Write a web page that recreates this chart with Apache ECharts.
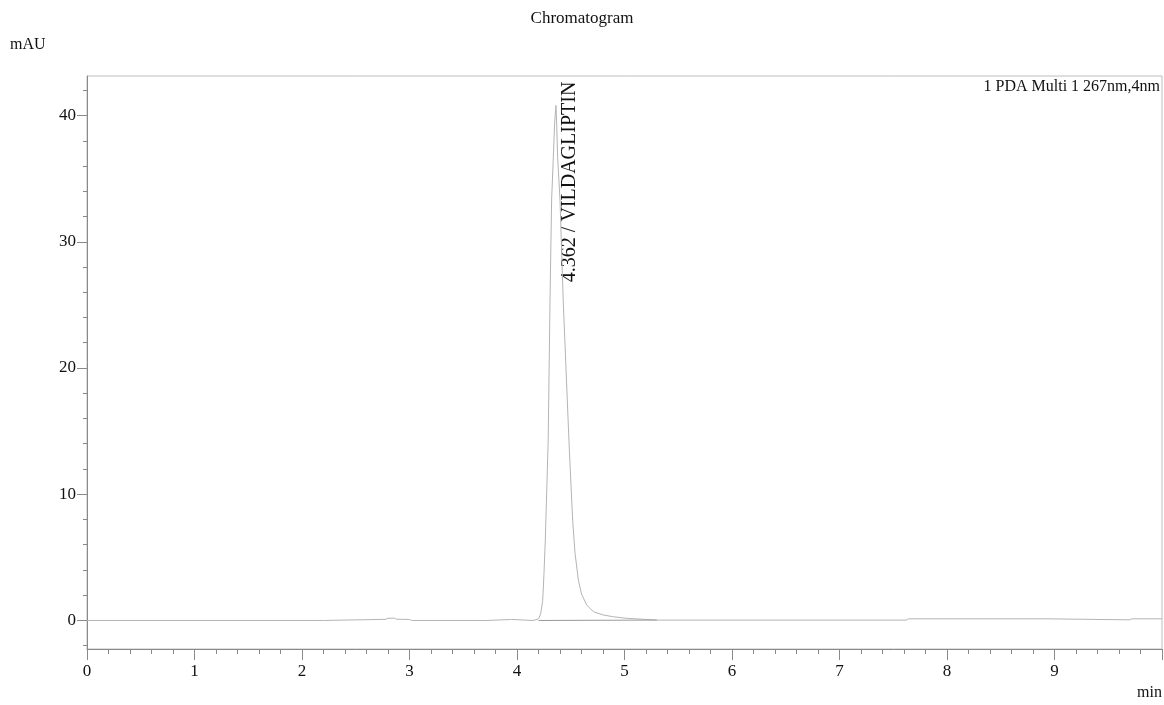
<!DOCTYPE html>
<html>
<head>
<meta charset="utf-8">
<script src="https://cdn.jsdelivr.net/npm/echarts@6/dist/echarts.min.js"></script>
<style>
  html, body { margin: 0; padding: 0; background: #fff; }
  #main { width: 1164px; height: 705px; }
</style>
</head>
<body>
<div id="main"></div>
<script>
// retention time (min) and detector signal (mAU)
const times = [0, 2.2, 2.21, 2.78, 2.8, 2.86, 2.88, 3.0, 3.02, 3.72, 3.73, 3.95, 3.96, 4.15,
  4.2, 4.22, 4.239, 4.251, 4.263, 4.29, 4.307, 4.322, 4.338, 4.35, 4.362, 4.369, 4.378, 4.40,
  4.43, 4.487, 4.518, 4.54, 4.571, 4.60, 4.648, 4.71, 4.80, 4.89, 5.02, 5.27, 5.3,
  7.62, 7.64, 8.94, 8.95, 9.7, 9.72, 10];
const mAU = [0, 0, 0.08, 0.09, 0.18, 0.18, 0.1, 0.08, 0, 0, 0.08, 0.08, 0, 0,
  0.13, 0.53, 1.58, 3.7, 6.3, 14.25, 25.3, 33.3, 36.7, 39.4, 40.8, 39.4, 36.7, 33.3,
  25.3, 13.5, 7.9, 5.3, 3.2, 2.1, 1.23, 0.7, 0.44, 0.3, 0.17, 0.05, 0.03,
  0.03, 0.13, 0.13, 0.05, 0.05, 0.13, 0.13];

// integration baseline under the peak
const baseTimes = [4.2, 5.3];
const baseValues = [0, 0.03];

const peakTime = 4.362;
const peakName = 'VILDAGLIPTIN';
const yLabels = [0, 10, 20, 30, 40];
const yMinor = [-2, 2, 4, 6, 8, 12, 14, 16, 18, 22, 24, 26, 28, 32, 34, 36, 38, 42];

const font = '"Liberation Serif", "DejaVu Serif", serif';
const axisGray = '#8a8a8a';
const traceGray = '#b4b4b4';

const chart = echarts.init(document.getElementById('main'));

function texts(extra) {
  return [
    { type: 'text', left: 'center', top: 10,
      style: { text: 'Chromatogram', font: '17px ' + font, fill: '#111' } },
    { type: 'text', left: 10, top: 37,
      style: { text: 'mAU', font: '16px ' + font, fill: '#111' } },
    { type: 'text', right: 4, top: 79,
      style: { text: '1 PDA Multi 1 267nm,4nm', font: '16px ' + font, fill: '#111' } },
    { type: 'text', right: 2, top: 685,
      style: { text: 'min', font: '16px ' + font, fill: '#111' } }
  ].concat(extra || []);
}

const option = {
  animation: false,
  backgroundColor: '#fff',
  textStyle: { fontFamily: font },
  grid: {
    left: 87, right: 2, top: 76, bottom: 56,
    show: true, borderColor: '#bdbdbd', borderWidth: 1
  },
  xAxis: {
    type: 'value',
    min: 0, max: 10, interval: 1,
    axisLine: { onZero: false, lineStyle: { color: axisGray } },
    axisTick: { length: 11, lineStyle: { color: axisGray } },
    minorTick: { show: true, splitNumber: 5, length: 5, lineStyle: { color: axisGray } },
    splitLine: { show: false },
    axisLabel: { color: '#111', fontSize: 17, margin: 14, showMaxLabel: false, fontFamily: font }
  },
  yAxis: [
    {
      type: 'value',
      min: -2.26, max: 43.13,
      axisLine: { show: true, onZero: false, lineStyle: { color: axisGray } },
      axisTick: { show: true, length: 10, customValues: yLabels, lineStyle: { color: axisGray } },
      axisLabel: { color: '#111', fontSize: 17, margin: 11, customValues: yLabels, fontFamily: font },
      splitLine: { show: false }
    },
    {
      type: 'value',
      position: 'left',
      min: -2.26, max: 43.13,
      axisLine: { show: false, onZero: false },
      axisTick: { show: true, length: 4, customValues: yMinor, lineStyle: { color: axisGray } },
      axisLabel: { show: false },
      splitLine: { show: false }
    }
  ],
  series: [
    {
      name: 'PDA',
      type: 'line',
      yAxisIndex: 0,
      data: times.map((t, i) => [t, mAU[i]]),
      showSymbol: false,
      lineStyle: { color: traceGray, width: 1 },
      silent: true
    },
    {
      name: 'baseline',
      type: 'line',
      yAxisIndex: 0,
      data: baseTimes.map((t, i) => [t, baseValues[i]]),
      showSymbol: false,
      lineStyle: { color: '#9a9a9a', width: 1 },
      silent: true
    }
  ],
  graphic: texts()
};

chart.setOption(option);

// peak label, placed from the data via the axis scales
const anchor = chart.convertToPixel({ xAxisIndex: 0, yAxisIndex: 0 }, [peakTime, 26.8]);
chart.setOption({
  graphic: texts([
    { type: 'text', x: anchor[0] + 14, y: anchor[1], rotation: Math.PI / 2,
      style: { text: peakTime.toFixed(3) + ' / ' + peakName, font: '20px ' + font, fill: '#111',
        textAlign: 'left', textVerticalAlign: 'middle' } }
  ])
});
</script>
</body>
</html>
